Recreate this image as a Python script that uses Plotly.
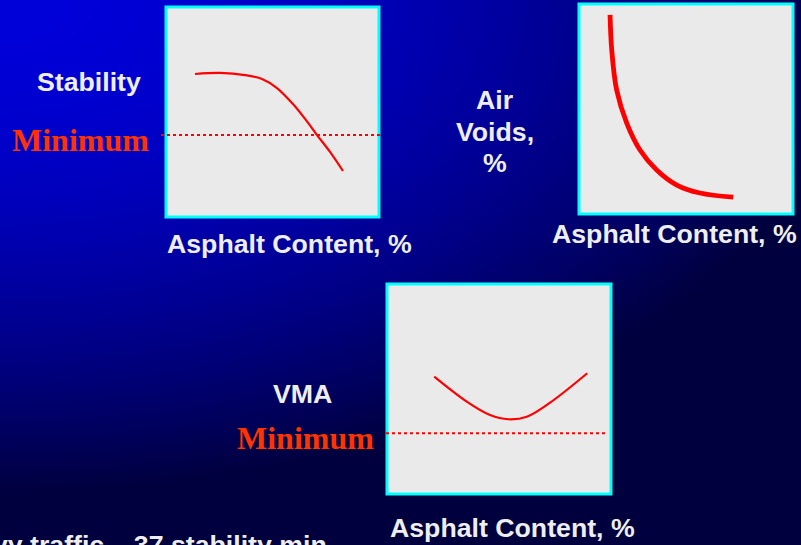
import base64, struct, zlib
import numpy as np
import plotly.graph_objects as go

W, H = 801, 545

# ---------------- data (arbitrary 0-10 units) -------------
x_title = "Asphalt Content, %"

stab_ac = [1.36, 2.54, 3.71, 4.51, 5.21, 5.96, 6.53, 7.09, 7.70, 8.31]
stab_val = [6.81, 6.86, 6.76, 6.57, 6.14, 5.38, 4.67, 3.90, 3.10, 2.19]
stab_min = 3.90

voids_ac = [1.45, 1.53, 1.76, 2.23, 2.85, 3.63, 4.57, 5.65, 7.21]
voids_val = [9.48, 7.81, 5.90, 4.33, 3.05, 2.10, 1.38, 1.00, 0.80]

vma_ac = [2.11, 3.56, 4.60, 5.42, 6.24, 7.28, 8.94]
vma_val = [5.59, 4.40, 3.76, 3.56, 3.68, 4.35, 5.75]
vma_min = 2.89

note = "Heavy traffic – 37 stability min"

# ---------------- background gradient (style) ----------------
def gradient_png(w, h):
    yy, xx = np.mgrid[0:h, 0:w].astype(float)
    r = np.sqrt((xx / 860.0) ** 2 + (yy / 490.0) ** 2)
    b = np.clip(218 - 154 * r ** 1.8, 62, 255)
    img = np.zeros((h, w, 3), dtype=np.uint8)
    img[..., 2] = b.astype(np.uint8)
    raw = b"".join(b"\x00" + img[i].tobytes() for i in range(h))
    def chunk(t, d):
        c = struct.pack(">I", len(d)) + t + d
        return c + struct.pack(">I", zlib.crc32(t + d) & 0xffffffff)
    png = b"\x89PNG\r\n\x1a\n" + chunk(b"IHDR", struct.pack(">IIBBBBB", w, h, 8, 2, 0, 0, 0)) \
        + chunk(b"IDAT", zlib.compress(raw, 9)) + chunk(b"IEND", b"")
    return "data:image/png;base64," + base64.b64encode(png).decode()

# panel boxes in pixels: left, right, top, bottom
boxes = {
    "1": (166, 379, 7, 217),
    "2": (579, 793, 4, 214),
    "3": (387, 611, 284, 494),
}

def dom(b):
    l, r, t, bt = b
    return [l / W, r / W], [1 - bt / H, 1 - t / H]

fig = go.Figure()
series = {"1": (stab_ac, stab_val, 2.2), "2": (voids_ac, voids_val, 4.8), "3": (vma_ac, vma_val, 2.2)}
for k, (xs, ys, lw) in series.items():
    sfx = "" if k == "1" else k
    fig.add_trace(go.Scatter(x=xs, y=ys, mode="lines", line=dict(color="#FF0000", width=lw, shape="spline"),
                             xaxis="x" + sfx, yaxis="y" + sfx, showlegend=False, hoverinfo="skip"))

layout = dict(width=W, height=H, margin=dict(l=0, r=0, t=0, b=0),
              paper_bgcolor="#000060", plot_bgcolor="rgba(0,0,0,0)", showlegend=False)
for k, b in boxes.items():
    sfx = "" if k == "1" else k
    dx, dy = dom(b)
    layout["xaxis" + sfx] = dict(domain=dx, range=[0, 10], visible=False, fixedrange=True)
    layout["yaxis" + sfx] = dict(domain=dy, range=[0, 10], visible=False, fixedrange=True)
fig.update_layout(**layout)

fig.add_layout_image(dict(source=gradient_png(W, H), xref="paper", yref="paper", x=0, y=1,
                          sizex=1, sizey=1, sizing="stretch", xanchor="left", yanchor="top",
                          layer="below"))

shapes = []
for k in boxes:
    sfx = "" if k == "1" else k
    shapes.append(dict(type="rect", xref="x" + sfx + " domain", yref="y" + sfx + " domain",
                       x0=0, x1=1, y0=0, y1=1, fillcolor="#EAEAEA",
                       line=dict(color="#00FFFF", width=3), layer="below"))

def min_line(box, val, xl, xr):
    l, r, t, bt = box
    py = bt - val / 10 * (bt - t)
    return dict(type="line", xref="paper", yref="paper", x0=xl / W, x1=xr / W,
                y0=1 - py / H, y1=1 - py / H, line=dict(color="#FF0000", width=2, dash="dot"),
                layer="above")

shapes.append(min_line(boxes["1"], stab_min, 161, 381))
shapes.append(min_line(boxes["3"], vma_min, 386, 608))
fig.update_layout(shapes=shapes)

WHITE = "#EEEEEE"
sans = "Liberation Sans, Arial, sans-serif"
serif = "Liberation Serif, Times New Roman, serif"

def ann(text, px, py, size=26.7, color=WHITE, family=sans, xanchor="center"):
    fig.add_annotation(text=text, x=px / W, y=1 - py / H, xref="paper", yref="paper",
                       xanchor=xanchor, yanchor="middle", showarrow=False,
                       font=dict(family=family, size=size, color=color))

ann("<b>Stability</b>", 89, 82)
ann("<b>Minimum</b>", 80, 140, size=32, color="#FF3300", family=serif)
ann("<b>" + x_title + "</b>", 289, 244)
ann("<b>Air</b>", 495, 100)
ann("<b>Voids,</b>", 495, 132)
ann("<b>%</b>", 495, 163)
ann("<b>" + x_title + "</b>", 674.5, 234)
ann("<b>VMA</b>", 302, 394)
ann("<b>Minimum</b>", 305, 438, size=32, color="#FF3300", family=serif)
ann("<b>" + x_title + "</b>", 512, 528)
ann("<b>" + note + "</b>", -58, 545, xanchor="left")

fig.write_html("out.html", config={"displayModeBar": False},
               post_script="document.body.style.margin='0';document.body.style.overflow='hidden';")
